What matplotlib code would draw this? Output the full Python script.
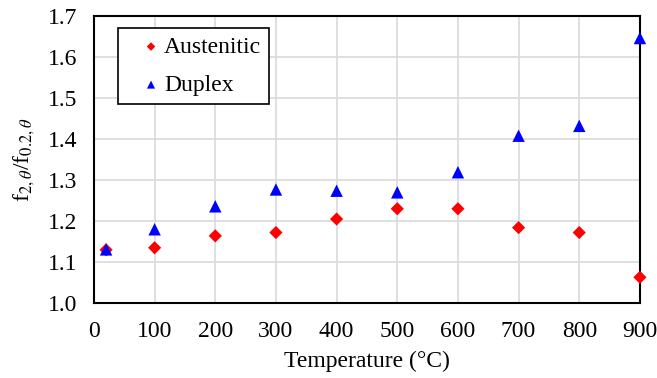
import matplotlib
matplotlib.use('Agg')
import matplotlib.pyplot as plt

# 데이터
temps = [20, 100, 200, 300, 400, 500, 600, 700, 800, 900]
austenitic = [1.130, 1.135, 1.164, 1.172, 1.205, 1.230, 1.230, 1.184, 1.172, 1.063]
duplex = [1.131, 1.180, 1.236, 1.277, 1.274, 1.270, 1.319, 1.408, 1.432, 1.646]

xticks = [0, 100, 200, 300, 400, 500, 600, 700, 800, 900]
yticks = [1.0, 1.1, 1.2, 1.3, 1.4, 1.5, 1.6, 1.7]

plt.rcParams['font.family'] = ['Liberation Serif', 'DejaVu Serif']
plt.rcParams['mathtext.fontset'] = 'stix'

fig = plt.figure(figsize=(6.57, 3.78), dpi=100)
ax = fig.add_axes([0.143, 0.198, 0.831, 0.760])

ax.scatter(temps, austenitic, marker='D', s=45, color='#ff0000', edgecolors='none',
           label='Austenitic', zorder=3, clip_on=False)
ax.scatter(temps, duplex, marker='^', s=80, color='#0000ff', edgecolors='none',
           label='Duplex', zorder=3, clip_on=False)

ax.set_xlim(0, 900)
ax.set_ylim(1.0, 1.7)
ax.set_xticks(xticks)
ax.set_yticks(yticks)
ax.set_yticklabels([f'{v:.1f}' for v in yticks])
ax.tick_params(length=0, labelsize=17)
ax.tick_params(axis='y', pad=12)
ax.tick_params(axis='x', pad=13)
ax.grid(True, color='#d9d9d9', linewidth=1.2)
ax.set_axisbelow(True)
for s in ax.spines.values():
    s.set_linewidth(1.5)
    s.set_color('black')

ax.set_xlabel('Temperature (°C)', fontsize=17, labelpad=6)
ax.set_ylabel(r'f$_{2,\theta}$/f$_{0.2,\theta}$', fontsize=17, labelpad=8)

leg = ax.legend(loc='upper left', bbox_to_anchor=(0.044, 0.958), borderaxespad=0,
                fontsize=17, frameon=True, fancybox=False, edgecolor='black',
                framealpha=1, handletextpad=-0.5, labelspacing=0.7, borderpad=0.35,
                handlelength=2.1, markerscale=0.65)
leg.get_frame().set_linewidth(1.2)

plt.savefig('out.png', dpi=100)
